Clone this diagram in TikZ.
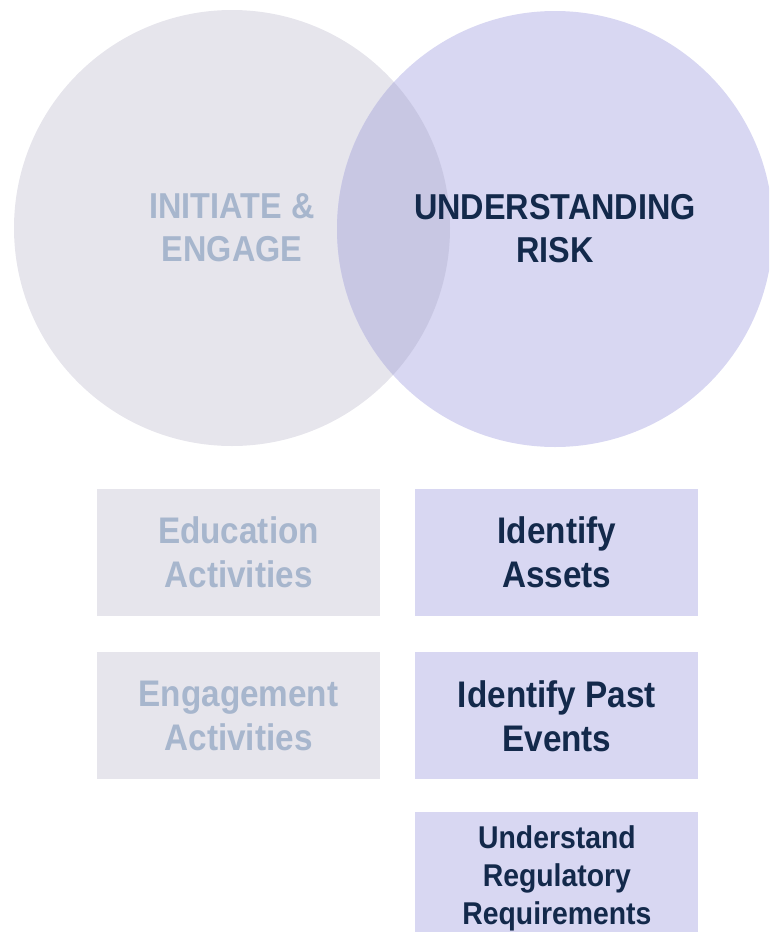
\documentclass[tikz,border=0pt]{standalone}
\usepackage{fontspec}
\setmainfont{Liberation Sans}[FakeStretch=0.9]
\usetikzlibrary{positioning}
\definecolor{greyfill}{HTML}{E6E5EC}
\definecolor{lilacfill}{HTML}{D8D7F2}
\definecolor{overlapfill}{HTML}{C8C7E3}
\definecolor{greytext}{HTML}{A7B6CD}
\definecolor{navytext}{HTML}{13294B}
\tikzset{
	greybox/.style={fill=greyfill, text=greytext, minimum width=283pt, minimum height=127pt, align=center, inner sep=0pt},
	lilacbox/.style={fill=lilacfill, text=navytext, minimum width=283pt, minimum height=127pt, align=center, inner sep=0pt},
}
\begin{document}
\begin{tikzpicture}[x=1pt, y=-1pt, font=\bfseries\fontsize{37}{44}\selectfont, line join=round]
	\clip (0,0) rectangle (769,932);
	\def\rad{218pt}
	\coordinate (cl) at (232,228);
	\coordinate (cr) at (555,229);
	\fill[greyfill] (cl) circle (\rad);
	\fill[lilacfill] (cr) circle (\rad);
	\begin{scope}
		\clip (cl) circle (\rad);
		\fill[overlapfill] (cr) circle (\rad);
	\end{scope}
	\node[text=greytext, align=center, font=\bfseries\fontsize{36}{43}\selectfont] (initiate) at (cl) {INITIATE \&\\ENGAGE};
	\node[text=navytext, align=center, font=\bfseries\fontsize{36}{43}\selectfont] (risk) at (cr) {UNDERSTANDING\\RISK};

	\node[greybox] (edu) at (238.5,552.5) {Education\\Activities};
	\node[greybox, below=36pt of edu] (eng) {Engagement\\Activities};
	\node[lilacbox, right=35pt of edu] (assets) {Identify\\Assets};
	\node[lilacbox, below=36pt of assets] (past) {Identify Past\\Events};
	\node[lilacbox, below=32pt of past, minimum height=133pt, font=\bfseries\fontsize{31.5}{38}\selectfont] (regs) {Understand\\Regulatory\\Requirements};
\end{tikzpicture}
\end{document}
